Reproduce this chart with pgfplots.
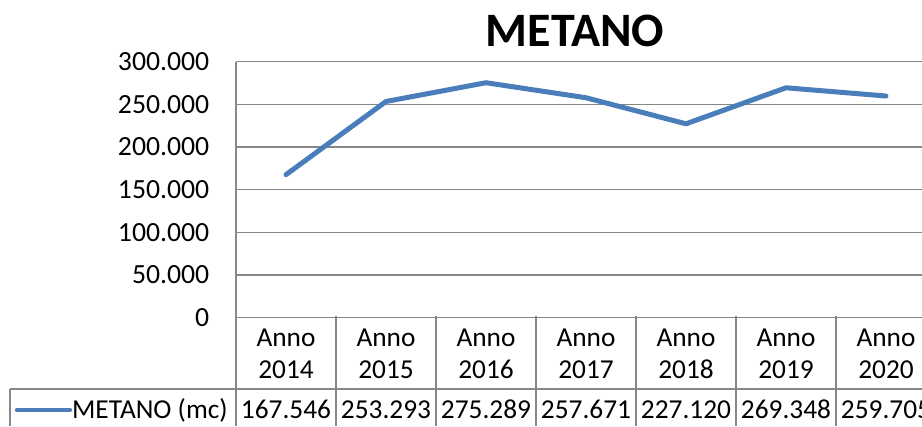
\documentclass[border=0pt]{standalone}
\usepackage{pgfplots}
\pgfplotsset{compat=1.18}
\usepackage{fontspec}
\setmainfont{Carlito}
\definecolor{lineblue}{HTML}{4A7EBB}
\definecolor{gridgray}{HTML}{878787}
\begin{document}
\begin{tikzpicture}[x=0.75pt,y=0.75pt]
\useasboundingbox (0,0) rectangle (922,426);
\clip (0,0) rectangle (922,426);
\begin{axis}[at={(286,127)}, anchor=origin, scale only axis,
  width=525pt, height=192pt,
  xmin=-0.5, xmax=6.5, ymin=0, ymax=300000,
  axis lines=left, axis line style={gridgray, line width=1.1pt, -},
  xtick={0,...,6},
  xticklabels={Anno\\2014,Anno\\2015,Anno\\2016,Anno\\2017,Anno\\2018,Anno\\2019,Anno\\2020},
  ytick={0,50000,...,300000},
  scaled y ticks=false,
  /pgf/number format/.cd, fixed, precision=0, 1000 sep={.}, assume math mode=true,
  /pgfplots/.cd,
  major tick length=0pt,
  ymajorgrids, grid style={gridgray, line width=1.1pt},
  xticklabel style={font=\fontsize{20.5}{24}\selectfont, anchor=base, yshift=-45.75pt, align=center},
  yticklabel style={font=\fontsize{20.8}{24}\selectfont, xshift=-16.5pt},
]
\addplot[lineblue, line width=3.75pt, line join=round, line cap=round] coordinates {
  (0,167546) (1,253293) (2,275289) (3,257671) (4,227120) (5,269348) (6,259705)};
\end{axis}
\begin{scope}[gridgray, line width=1.1pt]
\draw (10,37) -- (922,37);
\draw (10,37) -- (10,0);
\draw (236,110) -- (236,0);
\foreach \x in {336,436,536,636,736,836} \draw (\x,110) -- (\x,0);
\end{scope}
\draw[lineblue, line width=3.2pt, line cap=round] (17,16) -- (70,16);
\node[anchor=base east, inner sep=0pt, font=\fontsize{20.5}{24}\selectfont] at (228,8) {METANO (mc)};
\foreach \v [count=\i from 0] in {167.546,253.293,275.289,257.671,227.120,269.348,259.705}
  \node[anchor=base, inner sep=0pt, font=\fontsize{20.5}{24}\selectfont] at (286+100*\i,8) {\v};
\node[anchor=base, inner sep=0pt, font=\bfseries\fontsize{36}{36}\selectfont] at (575,379) {METANO};
\end{tikzpicture}
\end{document}
